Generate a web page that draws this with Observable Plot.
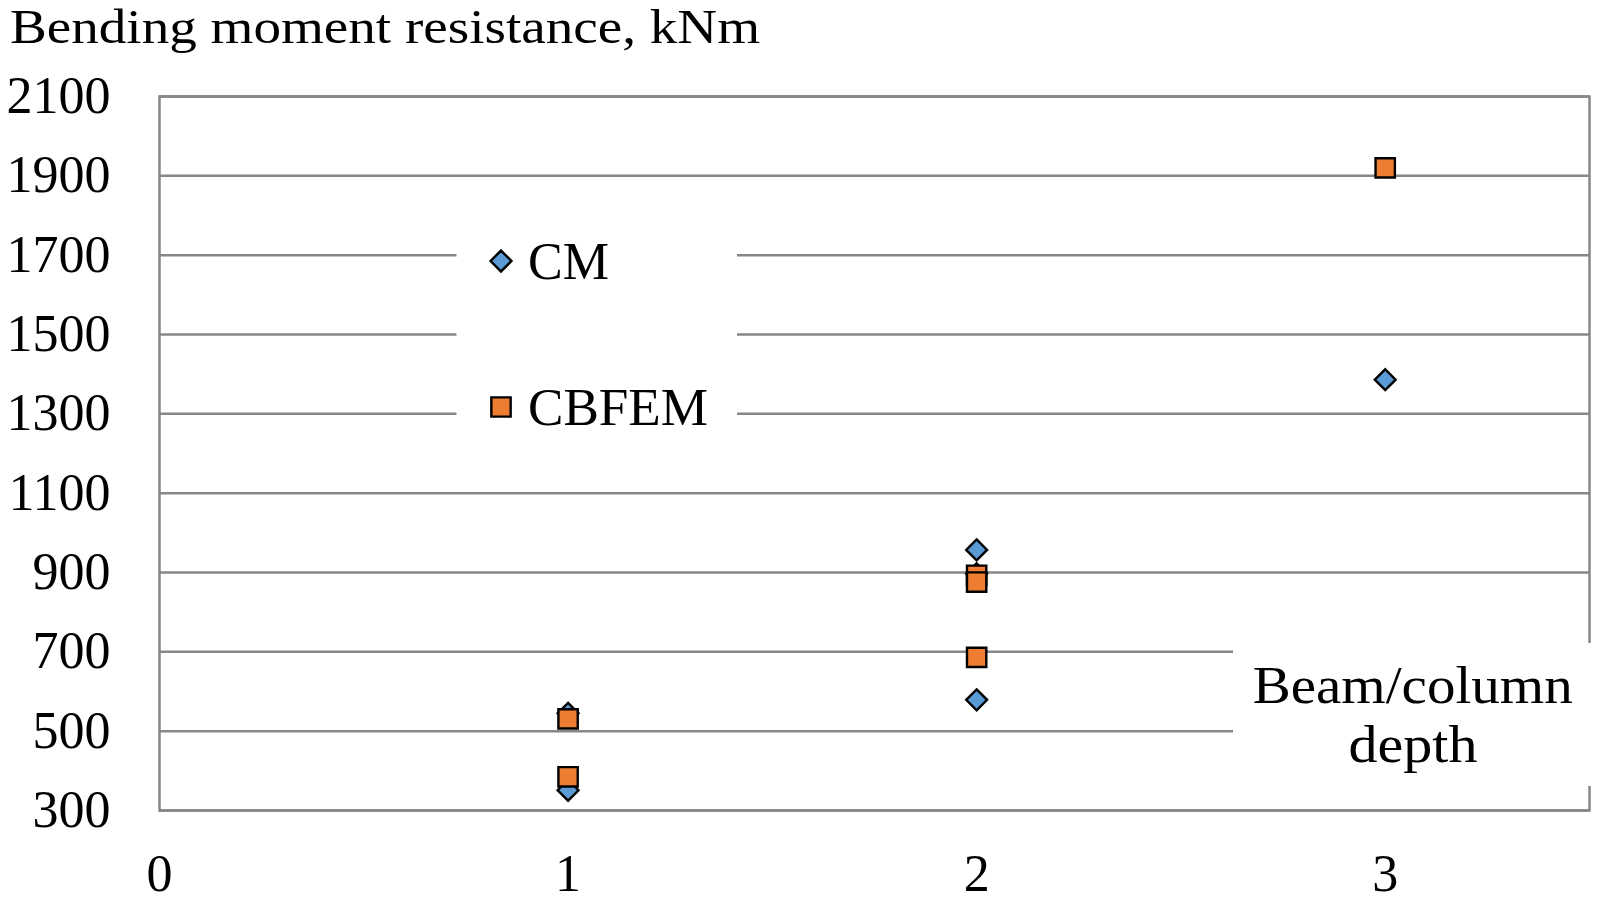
<!DOCTYPE html>
<html><head><meta charset="utf-8">
<script src="https://cdn.jsdelivr.net/npm/d3@7"></script>
<script src="https://cdn.jsdelivr.net/npm/@observablehq/plot@0.6"></script>
<style>body{margin:0;background:#fff} #chart{width:1600px;height:907px}</style>
</head><body><div id="chart"></div>
<script>
const xTicks = [0, 1, 2, 3];
const yTicks = [300, 500, 700, 900, 1100, 1300, 1500, 1700, 1900, 2100];
const seriesNames = ["CM", "CBFEM"];
const cmX = [1, 1, 2, 2, 2, 3];
const cmY = [545, 351, 957, 897, 579, 1386];
const cbX = [1, 1, 2, 2, 2, 3];
const cbY = [531, 385, 893, 876, 686, 1920];
const colors = ["#5B9BD5", "#ED7D31"];
const titleText = "Bending moment resistance, kNm";
const xTitle = ["Beam/column", "depth"];

const cm = cmX.map((x, i) => ({x, y: cmY[i], s: seriesNames[0]}));
const cb = cbX.map((x, i) => ({x, y: cbY[i], s: seriesNames[1]}));
const grid = "#878787";
const FONT = "Liberation Serif";
const rDiamond = 9.4, rSquare = 10.9;

const chart = Plot.plot({
  width: 1600, height: 907,
  marginLeft: 159, marginRight: 11, marginTop: 96, marginBottom: 97,
  style: {background: "#fff", fontFamily: FONT, color: "#000", overflow: "visible"},
  x: {domain: [0, 3.5]},
  y: {domain: [300, 2100]},
  marks: [
    Plot.ruleY(yTicks, {stroke: grid, strokeWidth: 2.5}),
    Plot.frame({stroke: grid, strokeWidth: 2.5}),
    Plot.axisX({ticks: xTicks, tickSize: 0, tickPadding: 44, fontSize: 52, label: null, tickFormat: "d"}),
    Plot.axisY({ticks: yTicks, tickSize: 0, tickPadding: 49, fontSize: 52, label: null, tickFormat: "d"}),
    Plot.dot(cm, {x: "x", y: "y", symbol: "diamond2", r: rDiamond, fill: colors[0], stroke: "#000", strokeWidth: 2.4}),
    Plot.dot(cb, {x: "x", y: "y", symbol: "square", r: rSquare, fill: colors[1], stroke: "#000", strokeWidth: 2.4})
  ]
});
document.getElementById("chart").appendChild(chart);

const svg = d3.select(chart);
function addText(x, y, size, len, str) {
  const t = svg.append("text").attr("x", x).attr("y", y).attr("text-anchor", "start")
    .attr("font-family", FONT).attr("font-size", size).attr("fill", "#000").text(str);
  if (len) t.attr("textLength", len).attr("lengthAdjust", "spacingAndGlyphs");
  return t;
}
// title
addText(10, 42.7, 48, 750, titleText);

// legend
svg.append("rect").attr("x", 456.5).attr("y", 200).attr("width", 280.5).attr("height", 260).attr("fill", "#fff");
svg.append("path").attr("d", d3.symbol(d3.symbolDiamond2, Math.PI * rDiamond * rDiamond)())
  .attr("transform", "translate(501,261)").attr("fill", colors[0]).attr("stroke", "#000").attr("stroke-width", 2.4);
svg.append("path").attr("d", d3.symbol(d3.symbolSquare, Math.PI * rSquare * rSquare)())
  .attr("transform", "translate(501,407)").attr("fill", colors[1]).attr("stroke", "#000").attr("stroke-width", 2.4);
addText(528, 279, 52, 81, seriesNames[0]);
addText(528, 425, 52, 180, seriesNames[1]);

// x axis title
svg.append("rect").attr("x", 1233).attr("y", 643).attr("width", 367).attr("height", 143).attr("fill", "#fff");
addText(1252.7, 702.7, 52, 320, xTitle[0]);
addText(1348.5, 761.7, 52, 129, xTitle[1]);
</script>
</body></html>
